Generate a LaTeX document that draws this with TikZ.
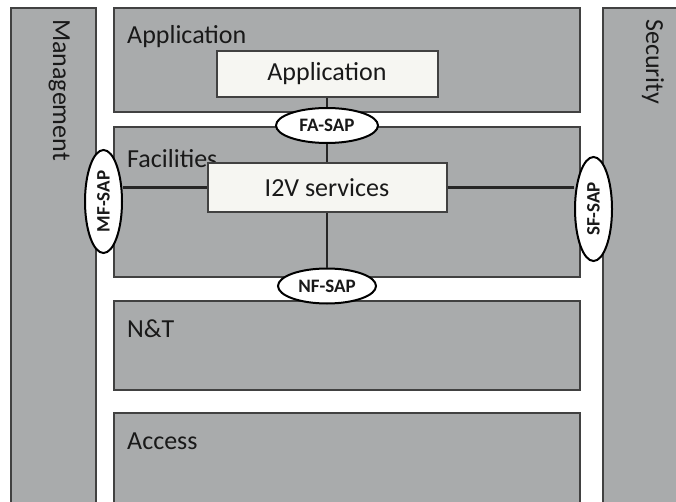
\documentclass[tikz,border=0pt]{standalone}
\usepackage{fontspec}
\setmainfont{Carlito}
\usetikzlibrary{shapes.geometric}
\definecolor{boxgray}{RGB}{169,171,172}
\definecolor{edgegray}{RGB}{65,65,65}
\definecolor{paper}{RGB}{246,246,242}
\definecolor{ink}{RGB}{25,25,25}
\tikzset{
  layer/.style={draw=edgegray, line width=2pt, fill=boxgray},
  whitebox/.style={draw=edgegray, line width=2pt, fill=paper, text=ink,
    font=\fontsize{26}{28}\selectfont, inner sep=0pt},
  biglabel/.style={text=ink, font=\fontsize{26}{28}\selectfont, inner sep=0pt},
  sap/.style={ellipse, draw=black, line width=2pt, fill=white, text=ink,
    font=\bfseries\fontsize{19}{20}\selectfont, inner sep=0pt},
  conn/.style={draw=black!85, line width=2.2pt}
}
\begin{document}
\begin{tikzpicture}[x=1pt,y=-1pt]
\useasboundingbox (0,0) rectangle (676,502);
\fill[white] (0,0) rectangle (676,502);
% side columns
\draw[layer] (11,8) rectangle (96,512);
\draw[layer] (603,8) rectangle (690,512);
\node[biglabel, rotate=-90, anchor=base west] (mgmt) at (53,19) {Management};
\node[biglabel, rotate=-90, anchor=base west] (sec) at (646,19) {Security};
% layers
\draw[layer] (114,8) rectangle (580,112);
\draw[layer] (114,127) rectangle (580,277);
\draw[layer] (114,301) rectangle (580,390);
\draw[layer] (114,413) rectangle (580,512);
\node[biglabel, anchor=base west] (lapp) at (127,44) {Application};
\node[biglabel, anchor=base west] (lfac) at (127,168) {Facilities};
\node[biglabel, anchor=base west] (lnt) at (127,337) {N\&T};
\node[biglabel, anchor=base west] (lacc) at (127,449) {Access};
% inner boxes
\node[whitebox, minimum width=221pt, minimum height=46pt] (app) at (327,74) {Application};
\node[whitebox, minimum width=239pt, minimum height=49pt] (i2v) at (327,187.5) {I2V services};
% SAP ellipses
\node[sap, minimum width=102pt, minimum height=35pt] (fa) at (327,125.5) {FA-SAP};
\node[sap, minimum width=98pt, minimum height=35pt] (nf) at (327,286) {NF-SAP};
\node[sap, rotate=90, minimum width=103pt, minimum height=37pt] (mf) at (103.5,201.5) {MF-SAP};
\node[sap, rotate=90, minimum width=104pt, minimum height=37pt] (sf) at (593.5,209) {SF-SAP};
% connectors
\draw[conn] (app.south) -- (fa.north);
\draw[conn] (fa.south) -- (i2v.north);
\draw[conn] (i2v.south) -- (nf.north);
\draw[conn] (mf.south |- i2v.west) -- (i2v.west);
\draw[conn] (i2v.east) -- (sf.north |- i2v.east);
\end{tikzpicture}
\end{document}
